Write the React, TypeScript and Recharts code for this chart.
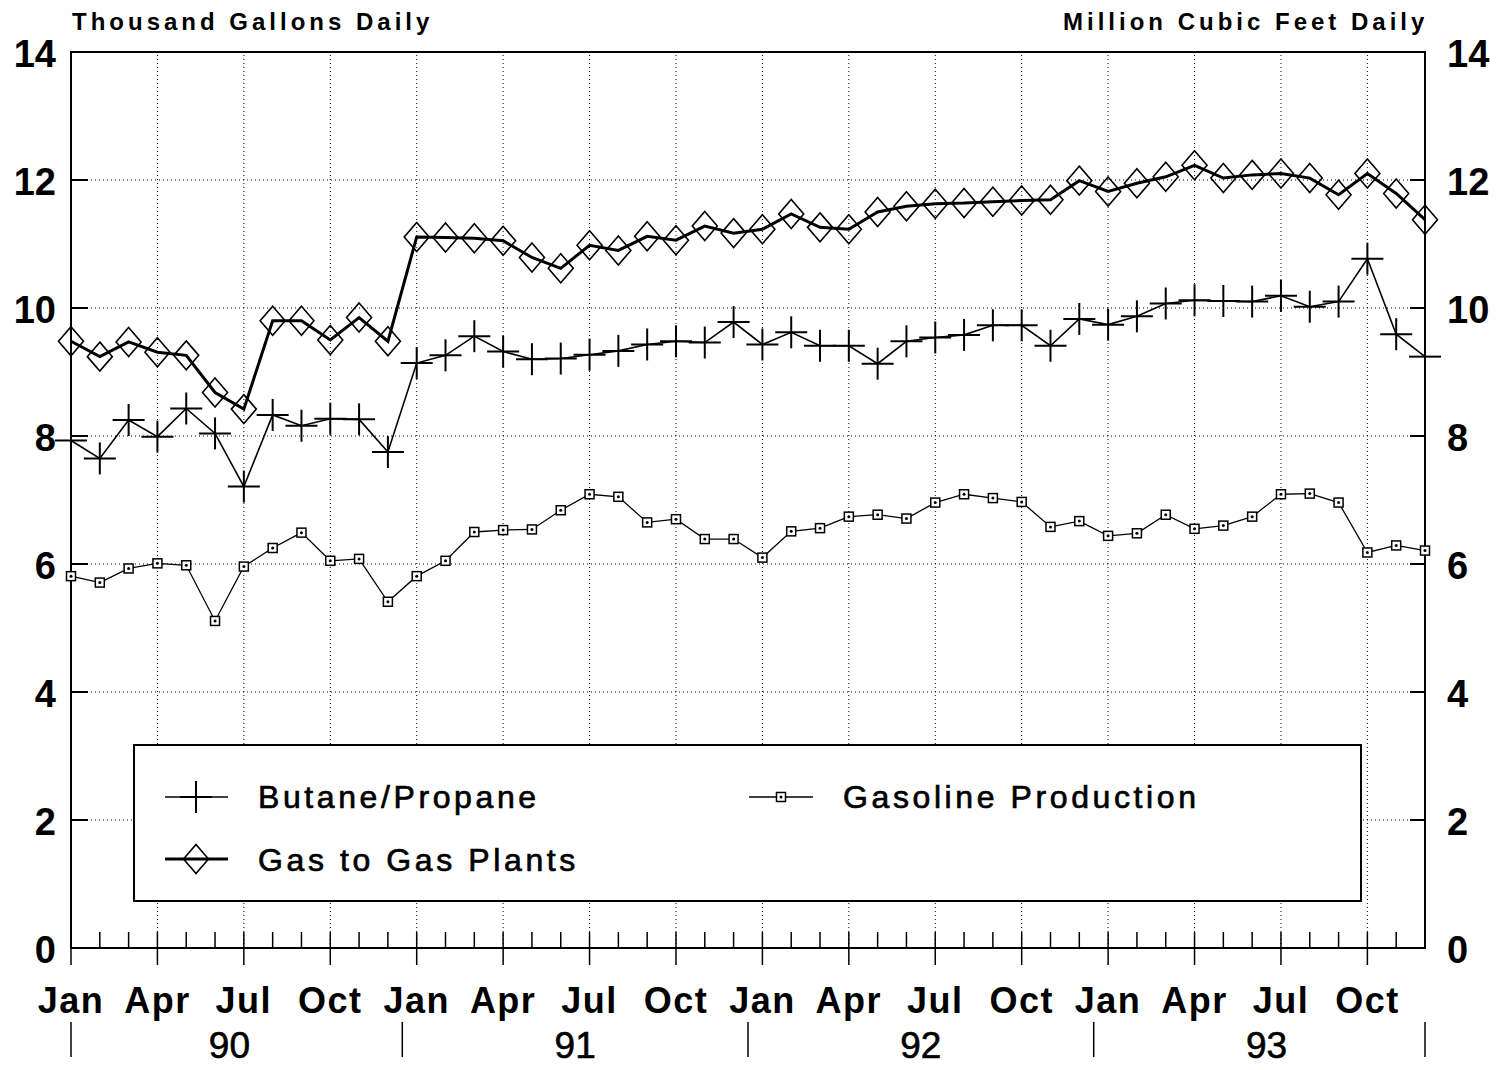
import React from "react";
import { LineChart, Line, XAxis, YAxis, CartesianGrid, ReferenceLine, ReferenceArea } from "recharts";

const FONT = '"Liberation Sans", Arial, Helvetica, sans-serif';

const MONTH_LABELS = ["Jan", "Apr", "Jul", "Oct"];
const YEAR_LABELS = ["90", "91", "92", "93"];
const Y_TICKS = [0, 2, 4, 6, 8, 10, 12, 14];

// thousand gallons daily
const butanePropane = [
  7.93, 7.65, 8.25, 7.99, 8.43, 8.04, 7.21, 8.33, 8.16, 8.27, 8.26, 7.75,
  9.14, 9.26, 9.56, 9.32, 9.2, 9.21, 9.27, 9.33, 9.43, 9.48, 9.46, 9.78,
  9.43, 9.62, 9.41, 9.41, 9.13, 9.48, 9.54, 9.58, 9.73, 9.73, 9.41, 9.83,
  9.74, 9.87, 10.07, 10.12, 10.11, 10.1, 10.19, 10.02, 10.1, 10.77, 9.59, 9.24,
];

// million cubic feet daily
const gasToPlants = [
  9.48, 9.24, 9.47, 9.31, 9.26, 8.68, 8.42, 9.8, 9.8, 9.5, 9.85, 9.48,
  11.11, 11.1, 11.09, 11.05, 10.79, 10.62, 10.98, 10.9, 11.12, 11.06, 11.28, 11.17,
  11.23, 11.47, 11.26, 11.23, 11.5, 11.59, 11.63, 11.64, 11.66, 11.68, 11.69, 11.99,
  11.82, 11.95, 12.05, 12.23, 12.03, 12.08, 12.1, 12.03, 11.77, 12.1, 11.79, 11.38,
];

const gasoline = [
  5.81, 5.71, 5.93, 6.01, 5.98, 5.11, 5.96, 6.25, 6.49, 6.05, 6.08, 5.41,
  5.81, 6.05, 6.5, 6.53, 6.54, 6.84, 7.09, 7.05, 6.65, 6.7, 6.39, 6.39,
  6.1, 6.51, 6.56, 6.74, 6.77, 6.71, 6.96, 7.09, 7.03, 6.97, 6.58, 6.67,
  6.44, 6.48, 6.77, 6.55, 6.6, 6.74, 7.09, 7.1, 6.96, 6.18, 6.29, 6.21,
];

const data = butanePropane.map((b, i) => ({
  i,
  butane: b,
  plants: gasToPlants[i],
  gasoline: gasoline[i],
}));

const LAST = data.length - 1;
const QUARTERS = data.filter((d) => d.i % 3 === 0 && d.i > 0).map((d) => d.i);
const YEAR_MID = YEAR_LABELS.map((_, k) => k * 12 + 5.5);
const YEAR_SEP = YEAR_LABELS.slice(1).map((_, k) => (k + 1) * 12 - 0.5);
const X_TICKS = [...data.map((d) => d.i), ...YEAR_MID, ...YEAR_SEP];

function PlusMark({ cx, cy }: any) {
  return (
    <g>
      <line x1={cx - 16} x2={cx + 16} y1={cy} y2={cy} stroke="#000" strokeWidth={2} />
      <line x1={cx} x2={cx} y1={cy - 16} y2={cy + 16} stroke="#000" strokeWidth={2} />
    </g>
  );
}

function DiamondMark({ cx, cy }: any) {
  return (
    <polygon
      points={`${cx},${cy - 14.5} ${cx + 12.5},${cy} ${cx},${cy + 14.5} ${cx - 12.5},${cy}`}
      fill="none"
      stroke="#000"
      strokeWidth={1.6}
    />
  );
}

function SquareMark({ cx, cy }: any) {
  return (
    <g>
      <rect x={cx - 4.5} y={cy - 4.5} width={9} height={9} fill="#fff" stroke="#000" strokeWidth={1.5} />
      <circle cx={cx} cy={cy} r={1.5} fill="#000" />
    </g>
  );
}

const dotOf = (Mark: any) => (p: any) =>
  p.cx == null || p.cy == null ? null : (
    <g key={`d-${p.index}`}>
      <Mark cx={p.cx} cy={p.cy} />
    </g>
  );

function MonthTick({ x, y, payload }: any) {
  const v = payload.value;
  const sep = <line x1={x} x2={x} y1={y + 74} y2={y + 109} stroke="#000" strokeWidth={1.5} />;
  if (YEAR_MID.includes(v)) {
    return (
      <text x={x} y={y + 110} textAnchor="middle" fontFamily={FONT} fontSize={37} stroke="#000" strokeWidth={0.6} fill="#000">
        {YEAR_LABELS[YEAR_MID.indexOf(v)]}
      </text>
    );
  }
  if (!Number.isInteger(v)) return sep;
  const major = v % 3 === 0;
  return (
    <g>
      <line x1={x} x2={x} y1={y - 16} y2={major ? y + 17 : y} stroke="#000" strokeWidth={1.5} />
      {major && (
        <text x={x} y={y + 65} textAnchor="middle" fontFamily={FONT} fontSize={36} fontWeight="bold" letterSpacing={1.5} fill="#000">
          {MONTH_LABELS[(v / 3) % 4]}
        </text>
      )}
      {(v === 0 || v === LAST) && sep}
    </g>
  );
}

function LeftTick({ x, y, payload }: any) {
  return (
    <g>
      <line x1={x} x2={x + 17} y1={y} y2={y} stroke="#000" strokeWidth={2} />
      <text x={x - 15} y={y + 15} textAnchor="end" fontFamily={FONT} fontSize={38} fontWeight="bold" fill="#000">
        {payload.value}
      </text>
    </g>
  );
}

function RightTick({ x, y, payload }: any) {
  return (
    <g>
      <line x1={x - 15} x2={x} y1={y} y2={y} stroke="#000" strokeWidth={2} />
      <text x={x + 22} y={y + 15} textAnchor="start" fontFamily={FONT} fontSize={38} fontWeight="bold" fill="#000">
        {payload.value}
      </text>
    </g>
  );
}

const legendText = { fontFamily: FONT, fontSize: 32, letterSpacing: 3.6, fill: "#000", stroke: "#000", strokeWidth: 0.7 };

export default function App() {
  return (
    <div style={{ position: "absolute", left: 0, top: 0, width: 1505, height: 1070, background: "#fff" }}>
      <LineChart width={1505} height={1070} data={data} margin={{ top: 52, right: 0, bottom: 0, left: 0 }}>
        <XAxis
          dataKey="i"
          type="number"
          domain={[0, LAST]}
          ticks={X_TICKS}
          interval={0}
          height={122}
          tickSize={0}
          tickMargin={0}
          tickLine={false}
          axisLine={{ stroke: "#000", strokeWidth: 2 }}
          tick={<MonthTick />}
        />
        <YAxis yAxisId="left" domain={[0, 14]} ticks={Y_TICKS} width={71} tickSize={0} tickMargin={0} tickLine={false} axisLine={false} tick={<LeftTick />} />
        <YAxis yAxisId="right" orientation="right" domain={[0, 14]} ticks={Y_TICKS} width={80} tickSize={0} tickMargin={0} tickLine={false} axisLine={false} tick={<RightTick />} />
        <CartesianGrid yAxisId="left" vertical={false} stroke="#000" strokeWidth={1} strokeDasharray="1 3" />
        {QUARTERS.map((q) => (
          <ReferenceLine key={q} x={q} yAxisId="left" stroke="#000" strokeWidth={1} strokeDasharray="1 3" />
        ))}
        <ReferenceArea x1={0} x2={LAST} y1={0} y2={14} yAxisId="left" fill="none" stroke="#000" strokeWidth={2} />
        <Line yAxisId="left" dataKey="gasoline" type="linear" stroke="#000" strokeWidth={1.3} dot={dotOf(SquareMark)} activeDot={false} isAnimationActive={false} />
        <Line yAxisId="left" dataKey="butane" type="linear" stroke="#000" strokeWidth={1.6} dot={dotOf(PlusMark)} activeDot={false} isAnimationActive={false} />
        <Line yAxisId="right" dataKey="plants" type="linear" stroke="#000" strokeWidth={3} dot={dotOf(DiamondMark)} activeDot={false} isAnimationActive={false} />
      </LineChart>
      <svg width={1505} height={1070} style={{ position: "absolute", left: 0, top: 0, pointerEvents: "none" }}>
        <text x={72} y={30} fontFamily={FONT} fontSize={24} fontWeight="bold" letterSpacing={4} fill="#000">
          Thousand Gallons Daily
        </text>
        <text x={1063} y={30} fontFamily={FONT} fontSize={24} fontWeight="bold" letterSpacing={4} fill="#000">
          Million Cubic Feet Daily
        </text>
        <g transform="translate(134,745)">
          <rect x={0} y={0} width={1227} height={156} fill="#fff" stroke="#000" strokeWidth={2} />
          <line x1={31} x2={94} y1={52} y2={52} stroke="#000" strokeWidth={1.6} />
          <PlusMark cx={62} cy={52} />
          <text x={124} y={63} {...legendText}>Butane/Propane</text>
          <line x1={31} x2={94} y1={114} y2={114} stroke="#000" strokeWidth={3} />
          <DiamondMark cx={62} cy={114} />
          <text x={124} y={126} {...legendText}>Gas to Gas Plants</text>
          <line x1={615} x2={679} y1={52} y2={52} stroke="#000" strokeWidth={1.3} />
          <SquareMark cx={647} cy={52} />
          <text x={709} y={63} {...legendText}>Gasoline Production</text>
        </g>
      </svg>
    </div>
  );
}
